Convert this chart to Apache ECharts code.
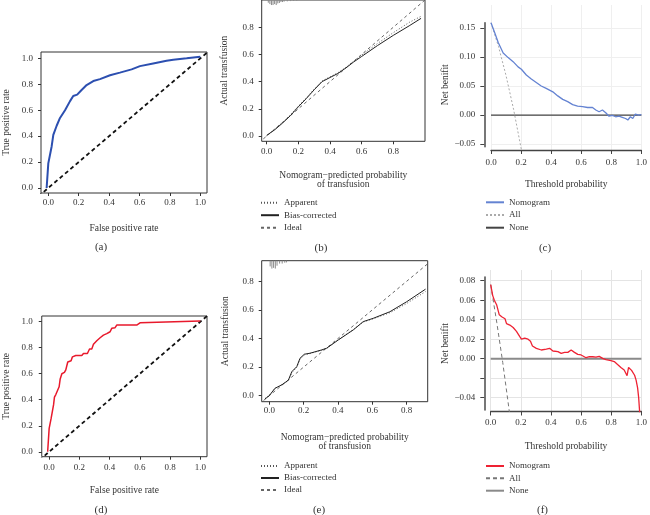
<!DOCTYPE html>
<html><head><meta charset="utf-8">
<script src="https://cdn.jsdelivr.net/npm/echarts@6/dist/echarts.min.js"></script>
<style>html,body{margin:0;padding:0;background:#fff}#c{width:650px;height:515px}</style>
</head><body><div id="c"></div>
<script>
// ---------- data ----------
const ticks01 = [0, 0.2, 0.4, 0.6, 0.8, 1.0];
const ticksCal = [0, 0.2, 0.4, 0.6, 0.8];
const ticksCY = [-0.05, 0, 0.05, 0.10, 0.15];
const ticksFYtick = [-0.04, -0.02, 0, 0.02, 0.04, 0.06, 0.08];
const ticksFYlabel = [-0.04, 0, 0.02, 0.04, 0.06, 0.08];

// (a) ROC
const rocA_fpr = [-0.011, 0, 0.022, 0.033, 0.055, 0.077, 0.11, 0.143, 0.164, 0.19, 0.219, 0.252, 0.296, 0.34, 0.406, 0.471, 0.548, 0.603, 0.69, 0.778, 0.822, 0.91, 1.0];
const rocA_tpr = [0, 0.19, 0.32, 0.41, 0.48, 0.54, 0.60, 0.67, 0.71, 0.72, 0.756, 0.794, 0.825, 0.84, 0.87, 0.89, 0.915, 0.94, 0.961, 0.982, 0.99, 1.0, 1.013];
// (d) ROC
const rocD_fpr = [-0.01, 0, 0, 0.007, 0.013, 0.022, 0.029, 0.035, 0.044, 0.055, 0.066, 0.073, 0.084, 0.101, 0.11, 0.123, 0.145, 0.154, 0.176, 0.216, 0.227, 0.253, 0.267, 0.282, 0.293, 0.315, 0.337, 0.359, 0.381, 0.403, 0.414, 0.436, 0.447, 0.579, 0.59, 0.601, 1.0];
const rocD_tpr = [0, 0, 0.18, 0.19, 0.256, 0.27, 0.36, 0.42, 0.44, 0.44, 0.50, 0.56, 0.60, 0.61, 0.63, 0.69, 0.70, 0.73, 0.74, 0.74, 0.756, 0.756, 0.79, 0.79, 0.826, 0.854, 0.877, 0.897, 0.908, 0.923, 0.949, 0.954, 0.974, 0.974, 0.982, 0.992, 1.005];
const rocDiag = [-0.1, 1.1];

// (b) calibration
const calB_x = [0, 0.05, 0.1, 0.15, 0.2, 0.25, 0.3, 0.35, 0.4, 0.45, 0.5, 0.55, 0.6, 0.7, 0.8, 0.9, 0.975];
const calB_bias = [0.005, 0.045, 0.095, 0.15, 0.215, 0.275, 0.34, 0.40, 0.43, 0.46, 0.50, 0.545, 0.585, 0.665, 0.74, 0.81, 0.865];
const calB_app = [0.0, 0.05, 0.1, 0.155, 0.22, 0.28, 0.345, 0.405, 0.435, 0.465, 0.505, 0.55, 0.595, 0.68, 0.76, 0.835, 0.88];
const calB_ideal = [-0.05, 1.05];
const rugB_x = [0.01, 0.02, 0.03, 0.04, 0.05, 0.06, 0.07, 0.08, 0.09, 0.10, 0.11, 0.13, 0.15, 0.17, 0.19];
const rugB_h = [0.02, 0.03, 0.037, 0.037, 0.03, 0.037, 0.025, 0.022, 0.015, 0.015, 0.012, 0.01, 0.008, 0.007, 0.006];

// (e) calibration
const calE_x = [-0.025, 0, 0.033, 0.072, 0.111, 0.131, 0.16, 0.179, 0.204, 0.237, 0.305, 0.334, 0.402, 0.489, 0.547, 0.605, 0.702, 0.8, 0.91];
const calE_bias = [-0.023, 0.0, 0.052, 0.075, 0.1085, 0.168, 0.203, 0.262, 0.29, 0.297, 0.32, 0.332, 0.39, 0.46, 0.518, 0.541, 0.587, 0.657, 0.745];
const calE_app = [-0.02, 0.005, 0.05, 0.078, 0.105, 0.16, 0.2, 0.255, 0.285, 0.295, 0.318, 0.33, 0.392, 0.462, 0.515, 0.538, 0.58, 0.645, 0.728];
const calE_ideal = [-0.06, 1.0];
const rugE_x = [0.005, 0.015, 0.025, 0.035, 0.045, 0.06, 0.075, 0.09, 0.1];
const rugE_h = [0.04, 0.055, 0.05, 0.055, 0.035, 0.02, 0.02, 0.014, 0.012];

// (c) decision curve
const dcaC_t = [0, 0.026, 0.048, 0.081, 0.114, 0.147, 0.18, 0.202, 0.235, 0.268, 0.301, 0.334, 0.367, 0.411, 0.444, 0.477, 0.51, 0.543, 0.576, 0.609, 0.642, 0.675, 0.697, 0.719, 0.741, 0.763, 0.785, 0.807, 0.829, 0.851, 0.873, 0.895, 0.91, 0.927, 0.943, 0.96, 0.982, 1.0];
const dcaC_nb = [0.159, 0.141, 0.125, 0.107, 0.099, 0.092, 0.083, 0.079, 0.069, 0.062, 0.056, 0.050, 0.046, 0.040, 0.033, 0.027, 0.023, 0.018, 0.0155, 0.0144, 0.013, 0.013, 0.0086, 0.0057, 0.0086, 0.004, -0.002, -0.0006, -0.003, -0.002, -0.004, -0.006, -0.0086, -0.003, -0.006, 0.0017, 0, 0.0006];
const dcaC_allT = [0, 0.05, 0.1, 0.15, 0.2, 0.22];
const dcaC_all = [0.159, 0.118, 0.068, 0.01, -0.057, -0.085];
const noneT = [0, 1];
const noneNB = [0, 0];

// (f) decision curve
const dcaF_t = [0, 0.013, 0.024, 0.04, 0.057, 0.073, 0.095, 0.105, 0.127, 0.149, 0.171, 0.193, 0.204, 0.226, 0.248, 0.264, 0.277, 0.303, 0.336, 0.369, 0.391, 0.413, 0.446, 0.468, 0.49, 0.512, 0.534, 0.556, 0.578, 0.6, 0.633, 0.655, 0.677, 0.699, 0.72, 0.743, 0.765, 0.798, 0.82, 0.842, 0.864, 0.886, 0.905, 0.915, 0.935, 0.955, 0.965, 0.975, 0.982, 0.99];
const dcaF_nb = [0.076, 0.065, 0.060, 0.055, 0.045, 0.043, 0.041, 0.036, 0.0345, 0.032, 0.028, 0.0226, 0.020, 0.021, 0.020, 0.018, 0.013, 0.0106, 0.0089, 0.0099, 0.0106, 0.0079, 0.0072, 0.0055, 0.0065, 0.0065, 0.0089, 0.0065, 0.0044, 0.0038, 0.001, 0.002, 0.002, 0.0017, 0.0024, 0.0003, -0.001, -0.002, -0.003, -0.006, -0.009, -0.0116, -0.0175, -0.009, -0.012, -0.017, -0.022, -0.03, -0.04, -0.058];
const dcaF_allT = [0, 0.04, 0.08, 0.12, 0.135];
const dcaF_all = [0.076, 0.0375, -0.004, -0.05, -0.068];

// ---------- helpers ----------
const FONT = '"Liberation Serif", "DejaVu Serif", serif';
const TXT = '#333';
const zip = (xs, ys) => xs.map((x, i) => [x, ys[i]]);
const fmt1 = v => (v < 0 ? '\u2212' : '') + Math.abs(v).toFixed(1);
const fmt2 = v => (Math.abs(v) < 1e-9 ? '0.00' : (v < 0 ? '\u2212' : '') + Math.abs(v).toFixed(2));
const font = (size, extra) => Object.assign({fontFamily: FONT, fontSize: size, color: TXT}, extra || {});

function boxAxis(grid, min, max, ticks, margin, name, gap, extra) {
  return Object.assign({
    gridIndex: grid, type: 'value', min: min, max: max,
    axisLine: {show: false, onZero: false},
    axisTick: {show: true, length: 3, customValues: ticks, lineStyle: {color: '#333', width: 1}},
    axisLabel: Object.assign({customValues: ticks, formatter: fmt1, margin: margin}, font(9)),
    splitLine: {show: false},
    name: name, nameLocation: 'middle', nameGap: gap,
    nameTextStyle: font(9.5, {lineHeight: 9.5})
  }, extra || {});
}
function hiddenAxis(grid, min, max) {
  return {gridIndex: grid, type: 'value', min: min, max: max, show: false,
    axisLine: {show: false, onZero: false}, axisTick: {show: false}, axisLabel: {show: false}, splitLine: {show: false}};
}
function dcaXAxis(grid, margin, gap, gridColor) {
  return {
    gridIndex: grid, type: 'value', min: 0, max: 1,
    axisLine: {show: true, onZero: false, lineStyle: {color: '#444', width: 1.4}},
    axisTick: {show: true, length: 4, customValues: ticks01, lineStyle: {color: '#444', width: 1}},
    axisLabel: Object.assign({customValues: ticks01, formatter: fmt1, margin: margin}, font(9)),
    splitLine: {show: true, lineStyle: {color: gridColor, width: 1}},
    name: 'Threshold probability', nameLocation: 'middle', nameGap: gap,
    nameTextStyle: font(9.5)
  };
}
function dcaGridY(grid, min, max, step, gridColor) {
  return {
    gridIndex: grid, type: 'value', min: min, max: max, minInterval: step, maxInterval: step, splitNumber: 5,
    axisLine: {show: false, onZero: false}, axisTick: {show: false}, axisLabel: {show: false},
    splitLine: {show: true, showMinLine: false, showMaxLine: false, lineStyle: {color: gridColor, width: 1}}
  };
}
function dcaYAxis(grid, min, max, tickVals, labelVals, gap) {
  return {
    gridIndex: grid, type: 'value', min: min, max: max,
    axisLine: {show: true, onZero: false, lineStyle: {color: '#555', width: 1.6}},
    axisTick: {show: true, length: 4, customValues: tickVals, lineStyle: {color: '#444', width: 1}},
    axisLabel: Object.assign({customValues: labelVals, formatter: fmt2, margin: 9}, font(9)),
    splitLine: {show: false},
    name: 'Net benifit', nameLocation: 'middle', nameGap: gap, nameTextStyle: font(9.5)
  };
}
function line(name, grid, data, color, width, type, z) {
  return {type: 'line', name: name, xAxisIndex: grid, yAxisIndex: grid, data: data,
    symbol: 'none', showSymbol: false, smooth: false, animation: false, z: z || 2, clip: true,
    lineStyle: {color: color, width: width, type: type || 'solid'}, itemStyle: {color: color}};
}
function rug(grid, xs, hs, top) {
  return {type: 'custom', xAxisIndex: grid, yAxisIndex: grid, data: zip(xs, hs), silent: true,
    renderItem: function (params, api) {
      const x = api.value(0), h = api.value(1);
      const p1 = api.coord([x, top]), p2 = api.coord([x, top - h]);
      return {type: 'line', shape: {x1: p1[0], y1: p1[1], x2: p2[0], y2: p2[1]}, style: {stroke: '#8a8a8a', lineWidth: 1}};
    }};
}
function legend(names, left, top, gap) {
  return {data: names, orient: 'vertical', left: left, top: top, padding: 0,
    itemWidth: 18, itemHeight: 8, itemGap: gap, selectedMode: false,
    itemStyle: {opacity: 0, borderWidth: 0},
    formatter: n => n.split('#')[0],
    textStyle: font(9, {lineHeight: 10})};
}
function panelLabel(text, x, y) {
  return {type: 'text', x: x, y: y, silent: true,
    style: {text: text, fill: TXT, font: '11px "Liberation Serif"', align: 'center', verticalAlign: 'middle'}};
}

const boxStyle = {show: true, borderColor: '#333', borderWidth: 1, backgroundColor: 'transparent'};

const option = {
  backgroundColor: '#ffffff',
  animation: false,
  grid: [
    Object.assign({left: 41, top: 52, width: 166, height: 141}, boxStyle),          // 0 a
    Object.assign({left: 261.7, top: 0, width: 163.3, height: 141.3}, boxStyle),    // 1 b
    {left: 491, top: 5, width: 151.7, height: 145},                                  // 2 c data
    {left: 484.3, top: 22.7, width: 10, height: 124},                                // 3 c y-axis
    Object.assign({left: 41.7, top: 316, width: 165.3, height: 140.7}, boxStyle),   // 4 d
    Object.assign({left: 261.7, top: 260.7, width: 166, height: 141}, boxStyle),    // 5 e
    {left: 490.7, top: 270, width: 151.6, height: 141.5},                            // 6 f data
    {left: 484.3, top: 277, width: 10, height: 133}                                  // 7 f y-axis
  ],
  xAxis: [
    boxAxis(0, -0.048, 1.044, ticks01, 5, 'False positive rate', 31),
    boxAxis(1, -0.0316, 1.0, ticksCal, 6, 'Nomogram\u2212predicted probability\nof transfusion', 29),
    dcaXAxis(2, 8, 29, '#efefef'),
    hiddenAxis(3, 0, 1),
    boxAxis(4, -0.049, 1.044, ticks01, 6, 'False positive rate', 29),
    boxAxis(5, -0.0443, 0.9225, ticksCal, 4, 'Nomogram\u2212predicted probability\nof transfusion', 31),
    dcaXAxis(6, 7, 30, '#e4e4e4'),
    hiddenAxis(7, 0, 1)
  ],
  yAxis: [
    boxAxis(0, -0.039, 1.049, ticks01, 8, 'True positive rate', 30),
    boxAxis(1, -0.039, 1.0, ticksCal, 8, 'Actual transfusion', 32),
    dcaGridY(2, -0.0603, 0.1897, 0.05, '#efefef'),
    dcaYAxis(3, -0.0547, 0.159, ticksCY, ticksCY, 34),
    boxAxis(4, -0.038, 1.044, ticks01, 9, 'True positive rate', 31),
    boxAxis(5, -0.042, 0.944, ticksCal, 8, 'Actual transfusion', 31),
    dcaGridY(6, -0.0542, 0.091, 0.02, '#e4e4e4'),
    dcaYAxis(7, -0.0526, 0.0838, ticksFYtick, ticksFYlabel, 34)
  ],
  legend: [
    legend(['Apparent#b', 'Bias-corrected#b', 'Ideal#b'], 260, 197.7, 2.5),
    legend(['Nomogram#c', 'All#c', 'None#c'], 485, 197.3, 2.7),
    legend(['Apparent#e', 'Bias-corrected#e', 'Ideal#e'], 260, 461, 2),
    legend(['Nomogram#f', 'All#f', 'None#f'], 485, 461, 2.35)
  ],
  series: [
    // (a)
    line('diagA', 0, zip(rocDiag, rocDiag), '#111', 1.8, [4, 3]),
    line('rocA', 0, zip(rocA_fpr, rocA_tpr), '#2c4fb0', 2, 'solid', 3),
    // (b)
    line('Ideal#b', 1, zip(calB_ideal, calB_ideal), '#666', 1, [3, 3]),
    line('Apparent#b', 1, zip(calB_x, calB_app), '#555', 1, [1, 2]),
    line('Bias-corrected#b', 1, zip(calB_x, calB_bias), '#222', 1, 'solid', 3),
    rug(1, rugB_x, rugB_h, 1.0),
    // (c)
    line('None#c', 2, zip(noneT, noneNB), '#444', 1.2, 'solid'),
    line('All#c', 2, zip(dcaC_allT, dcaC_all), '#aaaaaa', 1, [2, 2]),
    line('Nomogram#c', 2, zip(dcaC_t, dcaC_nb), '#6483d2', 1.3, 'solid', 3),
    // (d)
    line('diagD', 4, zip(rocDiag, rocDiag), '#111', 1.8, [4, 3]),
    line('rocD', 4, zip(rocD_fpr, rocD_tpr), '#e8192c', 1.5, 'solid', 3),
    // (e)
    line('Ideal#e', 5, zip(calE_ideal, calE_ideal), '#666', 1, [3, 3]),
    line('Apparent#e', 5, zip(calE_x, calE_app), '#555', 1, [1, 2]),
    line('Bias-corrected#e', 5, zip(calE_x, calE_bias), '#222', 1, 'solid', 3),
    rug(5, rugE_x, rugE_h, 0.944),
    // (f)
    line('None#f', 6, zip(noneT, noneNB), '#8a8a8a', 2, 'solid'),
    line('All#f', 6, zip(dcaF_allT, dcaF_all), '#777', 1, [4, 3]),
    line('Nomogram#f', 6, zip(dcaF_t, dcaF_nb), '#ee2233', 1.3, 'solid', 3)
  ],
  graphic: [
    panelLabel('(a)', 101, 247),
    panelLabel('(b)', 321, 247.7),
    panelLabel('(c)', 545, 248.3),
    panelLabel('(d)', 101, 510),
    panelLabel('(e)', 319, 510.5),
    panelLabel('(f)', 542.5, 510.5)
  ]
};

const chart = echarts.init(document.getElementById('c'), null, {renderer: 'canvas'});
chart.setOption(option);
</script>
</body></html>
